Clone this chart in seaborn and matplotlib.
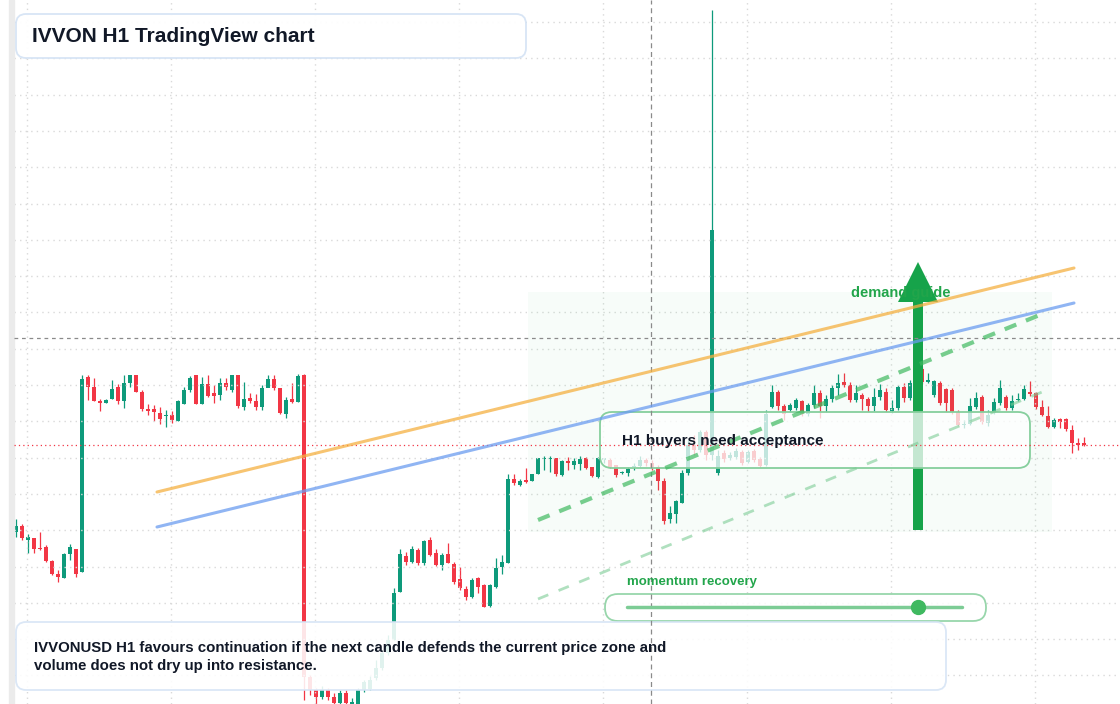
import matplotlib
matplotlib.use("Agg")
import matplotlib.pyplot as plt
import seaborn as sns
import numpy as np
import pandas as pd
from matplotlib.patches import FancyBboxPatch, Rectangle, FancyArrow

sns.set_theme(style="white")
plt.rcParams['font.family'] = ['Liberation Sans', 'DejaVu Sans']

# candle readings, taken off the screen in pixel rows (0 = top, 704 = bottom)
open_px = [532, 526, 540, 538, 548, 547, 561, 574, 578, 554, 549, 572, 377, 387, 401, 403, 399, 387, 401, 383,
           375, 392, 409, 409, 413, 416, 415, 421, 404, 390, 375, 404, 384, 393, 395, 383, 390, 375, 407, 398,
           401, 407, 388, 379, 388, 414, 399, 402, 375, 677, 690, 697, 690, 697, 703, 693, 704, 704, 690, 689,
           678, 668, 653, 640, 592, 556, 562, 550, 563, 540, 553, 565, 554, 564, 579, 589, 597, 578, 585, 606,
           587, 567, 563, 479, 485, 481, 481, 474, 459, 459, 458, 475, 461, 465, 464, 458, 467, 477, 460, 460,
           465, 473, 473, 467, 466, 460, 463, 467, 481, 519, 514, 503, 473, 445, 450, 432, 455, 473, 453, 458,
           457, 452, 462, 451, 459, 465, 407, 392, 406, 410, 408, 401, 414, 405, 393, 406, 399, 388, 382, 385,
           400, 395, 399, 406, 397, 392, 411, 408, 387, 398, 383, 369, 382, 395, 383, 389, 390, 412, 425, 424,
           407, 397, 423, 413, 403, 397, 408, 400, 399, 392, 393, 407, 416, 427, 419, 419, 430, 443, 443]
close_px = [526, 538, 537, 549, 549, 561, 574, 577, 554, 547, 574, 379, 387, 401, 403, 400, 389, 401, 383, 375,
            392, 409, 411, 412, 419, 416, 420, 401, 390, 378, 404, 384, 396, 396, 383, 387, 375, 406, 399, 401,
            407, 388, 379, 388, 413, 400, 402, 376, 677, 690, 697, 690, 697, 703, 693, 703, 702, 690, 682, 680,
            668, 653, 640, 593, 554, 562, 549, 563, 541, 555, 565, 555, 563, 582, 588, 597, 580, 587, 607, 585,
            568, 562, 479, 483, 481, 482, 474, 458, 459, 459, 474, 461, 463, 461, 459, 468, 476, 458, 460, 467,
            475, 472, 469, 467, 460, 463, 467, 481, 521, 513, 501, 473, 445, 450, 432, 455, 230, 456, 459, 455,
            451, 463, 452, 460, 466, 414, 392, 406, 414, 405, 400, 414, 405, 393, 406, 399, 388, 383, 385, 400,
            393, 399, 406, 397, 390, 410, 408, 387, 398, 383, 369, 382, 380, 381, 403, 403, 412, 425, 425, 406,
            398, 422, 415, 402, 388, 408, 401, 399, 389, 394, 407, 415, 427, 420, 422, 429, 443, 445, 445]
high_px = [519, 524, 534, 538, 532, 545, 560, 570, 553, 544, 549, 375, 375, 378, 399, 399, 380, 384, 375, 375,
           375, 390, 404, 405, 407, 410, 411, 400, 387, 376, 375, 377, 375, 385, 378, 378, 375, 375, 382, 393,
           394, 385, 375, 375, 388, 397, 383, 374, 374, 675, 688, 686, 688, 693, 690, 690, 698, 688, 680, 676,
           660, 650, 635, 588, 549, 552, 546, 548, 540, 537, 549, 553, 543, 562, 567, 586, 578, 577, 584, 584,
           558, 555, 474, 474, 479, 468, 474, 458, 456, 456, 458, 460, 457, 458, 456, 457, 467, 457, 458, 458,
           465, 471, 467, 463, 456, 458, 460, 465, 478, 506, 500, 470, 440, 435, 430, 430, 10, 450, 450, 452,
           448, 450, 450, 449, 457, 410, 385, 390, 404, 403, 398, 400, 403, 385, 390, 395, 385, 374, 373, 382,
           385, 393, 397, 388, 384, 388, 400, 385, 383, 380, 367, 367, 373, 380, 381, 388, 388, 410, 420, 398,
           392, 395, 410, 398, 380, 395, 395, 393, 385, 381, 392, 400, 406, 418, 418, 418, 425, 438, 437]
low_px = [537, 540, 553, 553, 550, 562, 575, 582, 578, 560, 577, 572, 400, 401, 411, 403, 399, 404, 408, 387,
          392, 411, 415, 421, 424, 427, 423, 421, 404, 392, 404, 404, 397, 403, 400, 390, 392, 408, 410, 403,
          410, 410, 384, 390, 414, 418, 403, 402, 700, 695, 704, 699, 700, 704, 704, 704, 704, 704, 692, 690,
          680, 670, 655, 640, 592, 565, 563, 565, 565, 556, 566, 570, 563, 584, 590, 600, 598, 593, 607, 607,
          588, 574, 563, 485, 486, 483, 481, 474, 470, 472, 476, 476, 470, 469, 470, 469, 477, 478, 463, 468,
          477, 474, 476, 470, 467, 466, 470, 490, 524, 523, 523, 503, 475, 455, 452, 460, 460, 475, 462, 460,
          459, 465, 463, 462, 467, 466, 408, 410, 420, 412, 410, 416, 416, 408, 418, 412, 402, 395, 387, 402,
          402, 410, 412, 411, 400, 412, 413, 410, 402, 400, 385, 384, 383, 397, 405, 412, 414, 426, 428, 425,
          409, 424, 426, 414, 405, 410, 410, 401, 400, 396, 409, 416, 428, 428, 428, 431, 453, 450, 446]


def to_price(rows):
    # screen row -> price level (linear price axis)
    return [round(1.2 + (704 - r) * 0.004, 4) for r in rows]


df = pd.DataFrame({
    "open": to_price(open_px), "close": to_price(close_px),
    "high": to_price(high_px), "low": to_price(low_px),
})
df["bar"] = np.arange(len(df))
df["up"] = df["close"] >= df["open"]

UP, DOWN = "#0e9a7b", "#f23645"

fig = plt.figure(figsize=(11.2, 7.04), dpi=100)
ax = fig.add_axes([0, 0, 1, 1])
ax.set_xlim(-16 / 6, (1120 - 16) / 6)
ax.set_ylim(1.2, 1.2 + 704 * 0.004)
ax.axis("off")

colors = np.where(df["up"], UP, DOWN)
ax.vlines(df["bar"], df["low"], df["high"], colors=colors, linewidth=0.9, zorder=3)
body_lo = np.minimum(df["open"], df["close"])
body_h = np.maximum(np.abs(df["close"] - df["open"]), 0.006)
ax.bar(df["bar"], body_h, bottom=body_lo, width=0.75, color=colors, linewidth=0, zorder=4)

# overlay in screen pixels for the annotation layer
ov = fig.add_axes([0, 0, 1, 1], zorder=5)
ov.set_xlim(0, 1120)
ov.set_ylim(704, 0)
ov.axis("off")
ov.patch.set_alpha(0)

ov.add_patch(Rectangle((9, 0), 5, 704, color="#ebebeb", zorder=1))
for gx in [27, 171, 315, 459, 603, 747, 891, 1035]:
    ov.axvline(gx, color="#d9d9d9", lw=1, ls=(0, (1, 3)), zorder=0)
for gy in np.arange(22, 704, 36.3):
    ov.axhline(gy, color="#d9d9d9", lw=1, ls=(0, (1, 3)), xmin=14 / 1120, zorder=0)
ov.axhline(338, color="#8a8a8a", lw=0.9, ls=(0, (3, 3)), xmin=14 / 1120)
ov.axhline(445, color="#f23645", lw=0.9, ls=(0, (1, 2.5)), xmin=14 / 1120)
ov.axvline(651, color="#8a8a8a", lw=0.9, ls=(0, (4, 3)))

ov.add_patch(Rectangle((528, 292), 524, 240, color="#22c55e", alpha=0.035, lw=0))
ov.plot([157, 1074], [492, 268], color="#f5b041", lw=2.2, alpha=0.75)
ov.plot([157, 1074], [527, 303], color="#6b9cf0", lw=2.2, alpha=0.75)
ov.plot([538, 1047], [520, 312], color="#3fb960", lw=3, alpha=0.7, ls=(0, (3, 2.5)))
ov.plot([538, 1047], [599, 390], color="#7ccc95", lw=2, alpha=0.6, ls=(0, (4, 4)))

ov.text(851, 293, "demand guide", color="#22a54b", fontsize=10.5, fontweight="bold", va="center")
ov.add_patch(FancyArrow(918, 530, 0, -228, width=10, head_width=40, head_length=40,
                        length_includes_head=False, color="#16a34a", lw=0))

ov.add_patch(FancyBboxPatch((600, 412), 430, 56, boxstyle="round,pad=0,rounding_size=12",
                            fc="white", alpha=0.75, ec="none"))
ov.add_patch(FancyBboxPatch((600, 412), 430, 56, boxstyle="round,pad=0,rounding_size=12",
                            fc="none", ec="#86cf9d", lw=1.3))
ov.text(622, 441, "H1 buyers need acceptance", color="#111827", fontsize=11,
        fontweight="bold", va="center")

ov.text(627, 582, "momentum recovery", color="#22a54b", fontsize=9.5, fontweight="bold", va="center")
ov.add_patch(FancyBboxPatch((605, 594), 381, 27, boxstyle="round,pad=0,rounding_size=13",
                            fc="white", alpha=0.85, ec="#86cf9d", lw=1.3))
mom = pd.DataFrame({"x": [627, 962], "y": [607, 607]})
sns.lineplot(data=mom, x="x", y="y", ax=ov, color="#7ccc95", lw=2.5, legend=False)
ov.plot([918], [607], "o", color="#3fb960", ms=10)

ov.add_patch(FancyBboxPatch((16, 14), 510, 44, boxstyle="round,pad=0,rounding_size=10",
                            fc="white", alpha=0.95, ec="#d6e4f5", lw=1.3))
ov.text(32, 36, "IVVON H1 TradingView chart", color="#111827", fontsize=15,
        fontweight="bold", va="center")

ov.add_patch(FancyBboxPatch((16, 622), 930, 68, boxstyle="round,pad=0,rounding_size=10",
                            fc="white", alpha=0.88, ec="#d6e4f5", lw=1.3))
ov.text(34, 657, "IVVONUSD H1 favours continuation if the next candle defends the current price zone and\n"
        "volume does not dry up into resistance.", color="#111827", fontsize=10.8,
        fontweight="bold", va="center", linespacing=1.45)
ov.set_xlabel("")
ov.set_ylabel("")

fig.savefig("out.png", dpi=100)
